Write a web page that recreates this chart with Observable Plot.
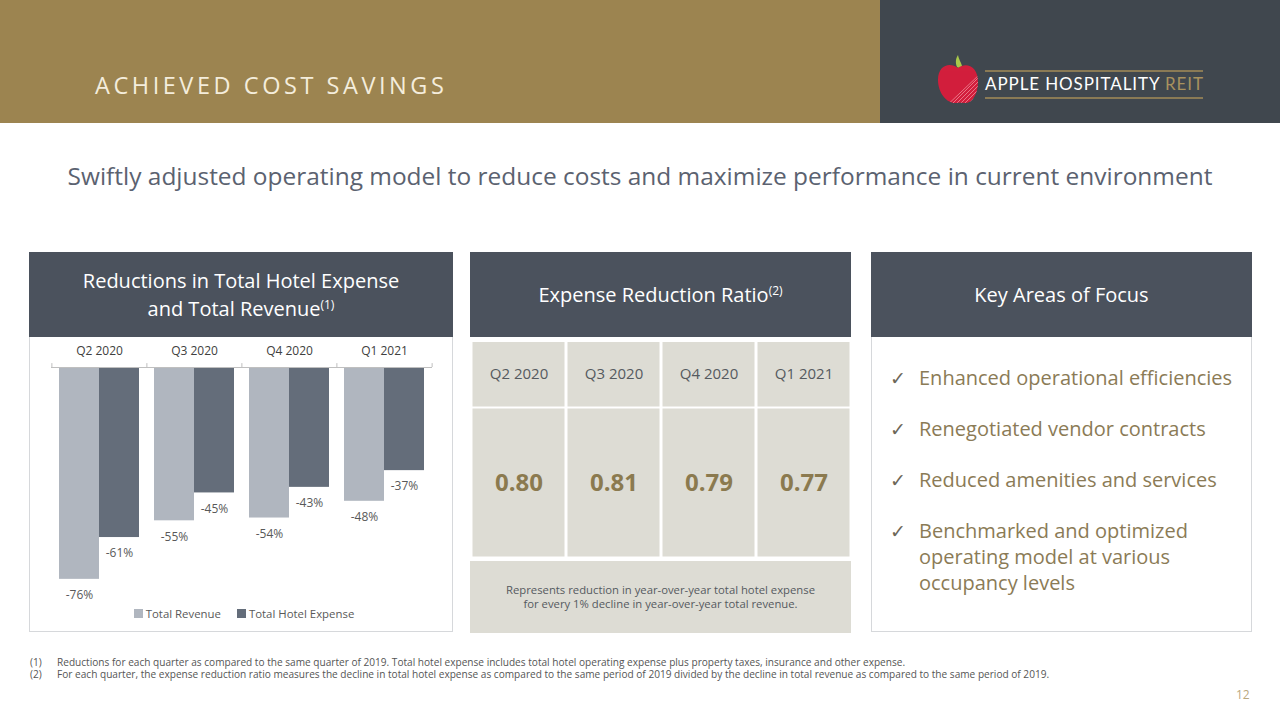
<!DOCTYPE html>
<html>
<head>
<meta charset="utf-8">
<script src="https://cdn.jsdelivr.net/npm/d3@7"></script>
<script src="https://cdn.jsdelivr.net/npm/@observablehq/plot@0.6"></script>
<style>
  html, body { margin: 0; padding: 0; background: #ffffff; }
  body { width: 1280px; height: 720px; position: relative; overflow: hidden; font-family: "Open Sans", "Noto Sans", sans-serif; }
  .abs { position: absolute; }
  .hdr-left { left: 0; top: 0; width: 880px; height: 123px; background: #9c8450; }
  .hdr-right { left: 880px; top: 0; width: 400px; height: 123px; background: #40474e; }
  .title { left: 95px; top: 70px; font-size: 23.5px; letter-spacing: 3.55px; color: #f4eddc; white-space: nowrap; line-height: 30px; }
  .logo-text { left: 985px; top: 73px; font-family: "Lato", "Open Sans", sans-serif; font-size: 17px; letter-spacing: 0.9px; color: #ffffff; white-space: nowrap; line-height: 22px; }
  .logo-text span { color: #a8925e; }
  .logo-line { left: 985px; width: 218px; height: 2px; background: #8a7a55; }
  .subtitle { left: 0; width: 1280px; top: 158px; text-align: center; font-size: 24.45px; color: #5b6270; white-space: nowrap; line-height: 36px; }
  .panel-head { top: 252px; height: 85px; background: #4b525d; color: #ffffff; display: flex; align-items: center; justify-content: center; text-align: center; font-size: 20px; line-height: 27.5px; }
  .panel-head sup { font-size: 12px; vertical-align: baseline; position: relative; top: -7px; line-height: 0; }
  .panel-body { top: 337px; height: 295px; box-sizing: border-box; border: 1px solid #d6d8db; border-top: none; background: #fff; }
  .legend { left: 32px; width: 424px; top: 606px; display: flex; justify-content: center; }
  #legend [class$="-swatch"] { margin-right: 16px !important; }
  #legend [class$="-swatch"]:last-child { margin-right: 0 !important; }
  #legend [class$="-swatch"] > svg { margin-right: 3px !important; }
  .note { left: 470px; width: 381px; top: 558px; height: 75px; box-sizing: border-box; border-top: 3px solid #fff; background: #dddcd4; color: #555a5f; font-size: 11.3px; line-height: 14px; text-align: center; display: flex; align-items: center; justify-content: center; }
  .focus { left: 890px; top: 365px; width: 360px; color: #8b7b56; font-size: 20px; line-height: 26px; }
  .focus .item { position: relative; padding-left: 29px; margin-bottom: 25px; }
  .focus .item::before { content: "\2713"; position: absolute; left: 0; top: 0; color: #6d6758; font-size: 19px; font-family: "DejaVu Sans", sans-serif; }
  .foot { left: 0; top: 656px; font-size: 10.1px; color: #555; line-height: 12px; white-space: nowrap; }
  .foot div { position: relative; padding-left: 57px; }
  .foot div b { position: absolute; left: 30px; font-weight: normal; }
  .pagenum { left: 1236px; top: 686px; font-size: 12px; color: #b9a880; }
</style>
</head>
<body>
<div class="abs hdr-left"></div>
<div class="abs hdr-right"></div>
<div class="abs title">ACHIEVED COST SAVINGS</div>

<svg class="abs" style="left:932px;top:52px" width="52" height="56" viewBox="0 0 52 56">
  <defs>
    <clipPath id="applec"><path d="M26 16 C18 10 6 13 6 28 C6 42 16 52 24 51 C27 50.5 29 50.5 32 51 C40 52 46 42 46 30 C46 14 34 10 26 16 Z"/></clipPath>
  </defs>
  <path d="M25 15 C23 10 24 6 26 3 C27 8 29 10 30 14 C29 16 26 16 25 15 Z" fill="#a9c94a"/>
  <g clip-path="url(#applec)">
    <rect x="0" y="0" width="52" height="56" fill="#d21f3c"/>
    <g stroke="#f08a99" stroke-width="1" opacity="0.8">
      <line x1="20" y1="60" x2="60" y2="20"/><line x1="24" y1="60" x2="64" y2="20"/><line x1="28" y1="60" x2="68" y2="20"/>
      <line x1="16" y1="60" x2="56" y2="20"/><line x1="12" y1="60" x2="52" y2="20"/><line x1="8" y1="60" x2="48" y2="22"/>
    </g>
  </g>
</svg>
<div class="abs logo-line" style="top:70px"></div>
<div class="abs logo-line" style="top:97px"></div>
<div class="abs logo-text">APPLE HOSPITALITY <span>REIT</span></div>

<div class="abs subtitle">Swiftly adjusted operating model to reduce costs and maximize performance in current environment</div>

<!-- Panel 1 -->
<div class="abs panel-head" style="left:29px;width:424px;"><div>Reductions in Total Hotel Expense<br>and Total Revenue<sup>(1)</sup></div></div>
<div class="abs panel-body" style="left:29px;width:424px;"></div>
<div class="abs" id="chart" style="left:29px;top:337px;"></div>
<div class="abs legend" id="legend"></div>

<!-- Panel 2 -->
<div class="abs panel-head" style="left:470px;width:381px;"><div>Expense Reduction Ratio<sup>(2)</sup></div></div>
<div class="abs" id="tableTop" style="left:470px;top:337px;"></div>
<div class="abs" id="tableMid" style="left:470px;top:407px;"></div>
<div class="abs note" id="ratioNote"></div>

<!-- Panel 3 -->
<div class="abs panel-head" style="left:871px;width:381px;"><div>Key Areas of Focus</div></div>
<div class="abs panel-body" style="left:871px;width:381px;"></div>
<div class="abs focus" id="focus"></div>

<div class="abs foot" id="foot"></div>
<div class="abs pagenum">12</div>

<script>
// ---- Data ----
const quarters = ["Q2 2020", "Q3 2020", "Q4 2020", "Q1 2021"];
const seriesNames = ["Total Revenue", "Total Hotel Expense"];
const totalRevenueChange = [-76, -55, -54, -48];
const totalHotelExpenseChange = [-61, -45, -43, -37];
const expenseReductionRatio = [0.80, 0.81, 0.79, 0.77];
const ratioNoteText = ["Represents reduction in year-over-year total hotel expense", "for every 1% decline in year-over-year total revenue."];
const focusAreas = [
  "Enhanced operational efficiencies",
  "Renegotiated vendor contracts",
  "Reduced amenities and services",
  "Benchmarked and optimized operating model at various occupancy levels"
];
const footnotes = [
  ["(1)", "Reductions for each quarter as compared to the same quarter of 2019. Total hotel expense includes total hotel operating expense plus property taxes, insurance and other expense."],
  ["(2)", "For each quarter, the expense reduction ratio measures the decline in total hotel expense as compared to the same period of 2019 divided by the decline in total revenue as compared to the same period of 2019."]
];
const seriesColors = ["#b0b6bf", "#646d7a"];

// ---- Tables built from arrays ----
const revRows = quarters.map((q, i) => ({quarter: q, series: seriesNames[0], value: totalRevenueChange[i]}));
const expRows = quarters.map((q, i) => ({quarter: q, series: seriesNames[1], value: totalHotelExpenseChange[i]}));
const ratioRows = quarters.map((q, i) => ({quarter: q, ratio: expenseReductionRatio[i]}));

// ---- Bar chart ----
const W = 424, mL = 22, mR = 21;
const pIn = 0.16, pOut = 0.08;
const step = (W - mL - mR) / (quarters.length - pIn + 2 * pOut);
const bw = step * (1 - pIn);
const font = '"Open Sans", "Noto Sans", sans-serif';

const chart = Plot.plot({
  width: W, height: 270,
  marginTop: 30, marginLeft: mL, marginRight: mR, marginBottom: 17,
  style: {fontFamily: font, fontSize: "12px", background: "transparent", overflow: "visible", color: "#404040"},
  x: {domain: quarters, paddingInner: pIn, paddingOuter: pOut, axis: "top", tickSize: 0, tickPadding: 13, label: null},
  y: {domain: [-80, 0], axis: null},
  color: {domain: seriesNames, range: seriesColors},
  marks: [
    Plot.barY(revRows, {x: "quarter", y: "value", fill: "series", insetRight: bw / 2}),
    Plot.barY(expRows, {x: "quarter", y: "value", fill: "series", insetLeft: bw / 2}),
    Plot.ruleY([0], {stroke: "#bfbfbf", strokeWidth: 1}),
    Plot.ruleX(quarters, {x: d => d, y1: 0, y2: 1.4, dx: -step / 2, stroke: "#bfbfbf"}),
    Plot.ruleX([quarters[quarters.length - 1]], {x: d => d, y1: 0, y2: 1.4, dx: step / 2, stroke: "#bfbfbf"}),
    Plot.text(revRows, {x: "quarter", y: "value", text: d => d.value + "%", dx: -bw / 4, dy: 16, fill: "#595959", fontSize: 12}),
    Plot.text(expRows, {x: "quarter", y: "value", text: d => d.value + "%", dx: bw / 4, dy: 16, fill: "#595959", fontSize: 12})
  ]
});
document.getElementById("chart").appendChild(chart);

const legend = Plot.legend({
  color: {domain: seriesNames, range: seriesColors},
  swatchSize: 9,
  style: {fontFamily: font, fontSize: "11.4px", color: "#595959"}
});
legend.style.justifyContent = "center";
legend.style.minHeight = "0";
legend.style.margin = "0";
document.getElementById("legend").appendChild(legend);

// ---- Ratio table (cells) ----
const TW = 381;
const tableTop = Plot.plot({
  width: TW, height: 71, margin: 0, marginTop: 1,
  style: {fontFamily: font, background: "#ffffff"},
  x: {domain: quarters, padding: 0, axis: null},
  marks: [
    Plot.cell(ratioRows, {x: "quarter", fill: "#dddcd4", insetLeft: 1.5, insetRight: 1.5, insetTop: 4, insetBottom: 1.5}),
    Plot.text(ratioRows, {x: "quarter", frameAnchor: "middle", dy: 1, text: "quarter", fill: "#555a5f", fontSize: 15})
  ]
});
document.getElementById("tableTop").appendChild(tableTop);

const tableMid = Plot.plot({
  width: TW, height: 151, margin: 0,
  style: {fontFamily: font, background: "#ffffff"},
  x: {domain: quarters, padding: 0, axis: null},
  marks: [
    Plot.cell(ratioRows, {x: "quarter", fill: "#dddcd4", insetLeft: 1.5, insetRight: 1.5, insetTop: 1.5, insetBottom: 1.5}),
    Plot.text(ratioRows, {x: "quarter", frameAnchor: "middle", text: d => d.ratio.toFixed(2), fill: "#8b7a4f", fontSize: 24, fontWeight: "bold"})
  ]
});
document.getElementById("tableMid").appendChild(tableMid);

document.getElementById("ratioNote").innerHTML = "<div>" + ratioNoteText.join("<br>") + "</div>";

// ---- Focus list ----
document.getElementById("focus").innerHTML = focusAreas.map(t => `<div class="item">${t}</div>`).join("");

// ---- Footnotes ----
document.getElementById("foot").innerHTML = footnotes.map(([k, t]) => `<div><b>${k}</b>${t}</div>`).join("");
</script>
</body>
</html>
